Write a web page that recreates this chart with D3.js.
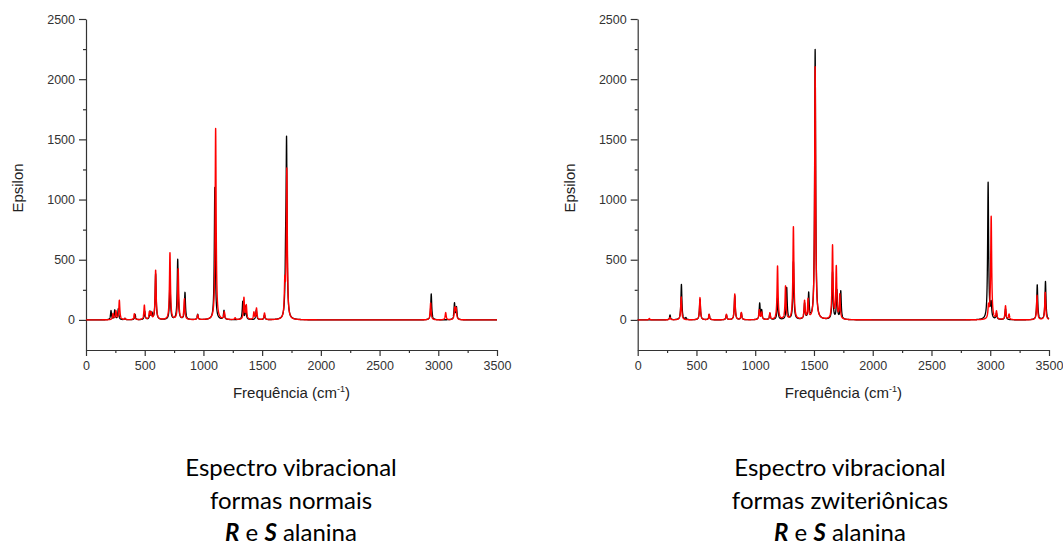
<!DOCTYPE html>
<html>
<head>
<meta charset="utf-8">
<script src="https://cdn.jsdelivr.net/npm/d3@7"></script>
<style>
  body { margin: 0; background: white; }
  svg { display: block; }
</style>
</head>
<body>
<div id="chart"></div>
<script>
// peak positions (cm-1) and heights (epsilon)
// normal forms - R (black) and S (red)
const normalFreqR = [213, 245, 275, 332, 418, 500, 545, 562, 593, 715, 781, 843, 951, 1097, 1175, 1335, 1360, 1450, 1520, 1700, 1708, 2940, 3138, 3155];
const normalEpsR  = [75, 80, 90, 12, 45, 70, 65, 50, 380, 320, 500, 225, 45, 1100, 75, 150, 110, 80, 40, 380, 1420, 215, 135, 100];
const normalFreqS = [230, 255, 284, 332, 412, 497, 540, 555, 593, 715, 785, 838, 951, 1104, 1178, 1270, 1345, 1365, 1430, 1452, 1520, 1693, 1710, 2935, 3063, 3140, 3152];
const normalEpsS  = [50, 70, 160, 10, 50, 120, 60, 55, 410, 555, 420, 170, 40, 1590, 60, 15, 180, 115, 60, 95, 55, 270, 1240, 140, 60, 95, 90];

// zwitterionic forms - R (black) and S (red)
const zwitFreqR = [275, 372, 410, 530, 608, 755, 826, 882, 1038, 1055, 1125, 1190, 1268, 1325, 1420, 1455, 1510, 1658, 1695, 1728, 2982, 3008, 3053, 3130, 3400, 3470];
const zwitEpsR  = [40, 295, 15, 170, 45, 40, 200, 55, 135, 75, 50, 180, 265, 480, 130, 210, 2245, 390, 240, 235, 1140, 120, 50, 90, 290, 318];
const zwitFreqS = [99, 275, 370, 530, 608, 755, 826, 882, 1035, 1055, 1125, 1190, 1258, 1325, 1420, 1450, 1510, 1658, 1690, 1720, 2985, 3008, 3053, 3130, 3160, 3398, 3468];
const zwitEpsS  = [12, 20, 190, 185, 45, 45, 215, 60, 80, 60, 55, 445, 275, 770, 150, 160, 2100, 610, 430, 200, 100, 855, 65, 115, 45, 203, 228];

// axis ticks
const xTicks = [0, 500, 1000, 1500, 2000, 2500, 3000, 3500];
const xMinorTicks = [250, 750, 1250, 1750, 2250, 2750, 3250];
const yTicks = [0, 500, 1000, 1500, 2000, 2500];
const yMinorTicks = [250, 750, 1250, 1750, 2250];

// captions under each chart
const captionLeft = ['Espectro vibracional', 'formas normais'];
const captionRight = ['Espectro vibracional', 'formas zwiteriônicas'];

const halfWidth = 5; // lorentzian half width used to draw the bands (cm-1)

let width = 1063,
	height = 545;

let svg = d3.select('#chart')
	.append('svg')
		.attr('width', width)
		.attr('height', height)
		.style('background', 'white');

let axisFont = "'Liberation Sans', Arial, sans-serif";

// turns a list of peaks into a broadened spectrum
function spectrum(freqs, eps) {
	let pts = [];
	for (let f = 0; f <= 3500; f += 0.5) {
		let v = 0;
		for (let i = 0; i < freqs.length; i++) {
			let d = f - freqs[i];
			v += eps[i] * halfWidth * halfWidth / (d * d + halfWidth * halfWidth);
		}
		pts.push([f, v]);
	}
	return pts;
}

function drawChart(left, right, caption, xCenter, blackF, blackE, redF, redE, epsX) {

	let xScale = d3.scaleLinear()
		.domain([0, 3500])
		.range([left, right]);

	let yScale = d3.scaleLinear()
		.domain([-250, 2500])
		.range([350, 19]);

	let axisColor = '#333';

	// y axis, major and minor ticks
	svg.append('g')
		.attr('transform', 'translate(' + left + ',0)')
		.call(d3.axisLeft(yScale).tickValues(yTicks).tickFormat(d3.format('d')).tickSize(7).tickPadding(4).tickSizeOuter(0));
	svg.append('g')
		.attr('transform', 'translate(' + left + ',0)')
		.call(d3.axisLeft(yScale).tickValues(yMinorTicks).tickSize(3).tickFormat('').tickSizeOuter(0))
		.select('.domain').remove();

	// x axis at the bottom
	svg.append('g')
		.attr('transform', 'translate(0,' + yScale(-250) + ')')
		.call(d3.axisBottom(xScale).tickValues(xTicks).tickFormat(d3.format('d')).tickSize(6).tickPadding(5).tickSizeOuter(0));
	svg.append('g')
		.attr('transform', 'translate(0,' + yScale(-250) + ')')
		.call(d3.axisBottom(xScale).tickValues(xMinorTicks).tickSize(3).tickFormat('').tickSizeOuter(0))
		.select('.domain').remove();

	svg.selectAll('.domain, .tick line')
		.attr('stroke', axisColor)
		.attr('stroke-width', 1.2);
	svg.selectAll('.tick text')
		.attr('fill', '#333')
		.style('font-family', axisFont)
		.style('font-size', '12.5px');

	// spectra lines, red drawn on top of black
	let line = d3.line()
		.x(d => xScale(d[0]))
		.y(d => yScale(d[1]));

	svg.append('path')
		.datum(spectrum(blackF, blackE))
		.attr('fill', 'none')
		.attr('stroke', '#000')
		.attr('stroke-width', 1.3)
		.attr('stroke-linejoin', 'round')
		.attr('d', line);

	svg.append('path')
		.datum(spectrum(redF, redE))
		.attr('fill', 'none')
		.attr('stroke', '#f00')
		.attr('stroke-width', 1.4)
		.attr('stroke-linejoin', 'round')
		.attr('d', line);

	// axis titles
	let xTitle = svg.append('text')
		.attr('x', (left + right) / 2)
		.attr('y', 398)
		.attr('text-anchor', 'middle')
		.attr('fill', '#222')
		.style('font-family', axisFont)
		.style('font-size', '15px');
	xTitle.append('tspan').text('Frequência (cm');
	xTitle.append('tspan').attr('dy', -6).style('font-size', '9px').text('-1');
	xTitle.append('tspan').attr('dy', 6).text(')');

	svg.append('text')
		.attr('transform', 'translate(' + epsX + ',188) rotate(-90)')
		.attr('text-anchor', 'middle')
		.attr('dy', '0.35em')
		.attr('fill', '#222')
		.style('font-family', axisFont)
		.style('font-size', '15px')
		.text('Epsilon');

	// caption block
	let capFont = "Lato, 'Open Sans', sans-serif";
	caption.forEach(function(t, i) {
		svg.append('text')
			.attr('x', xCenter)
			.attr('y', 476 + i * 33)
			.attr('text-anchor', 'middle')
			.attr('fill', '#000')
			.style('font-family', capFont)
			.style('font-size', '24px')
			.text(t);
	});
	let last = svg.append('text')
		.attr('x', xCenter)
		.attr('y', 541)
		.attr('text-anchor', 'middle')
		.attr('fill', '#000')
		.style('font-family', capFont)
		.style('font-size', '24px');
	last.append('tspan').style('font-weight', 'bold').style('font-style', 'italic').text('R');
	last.append('tspan').text(' e ');
	last.append('tspan').style('font-weight', 'bold').style('font-style', 'italic').text('S');
	last.append('tspan').text(' alanina');
}

drawChart(86, 497, captionLeft, 291, normalFreqR, normalEpsR, normalFreqS, normalEpsS, 18);
drawChart(637.7, 1049, captionRight, 840, zwitFreqR, zwitEpsR, zwitFreqS, zwitEpsS, 570);
</script>
</body>
</html>
